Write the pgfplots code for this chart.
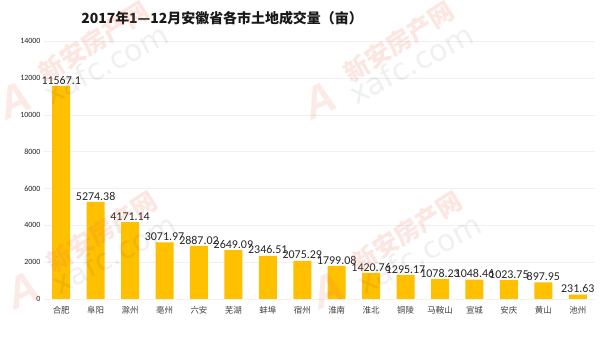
\documentclass[border=0pt]{standalone}
\usepackage{fontspec}
\setmainfont{Carlito}
\newfontfamily\cjk{Noto Sans CJK SC}
\newfontfamily\wmfont{DejaVu Sans}
\newfontfamily\logofont{Liberation Sans}
\usepackage{pgfplots}
\usepackage{pgfplotstable}
\pgfplotsset{compat=1.18}
\definecolor{barc}{HTML}{FFC000}
\definecolor{wmred}{HTML}{F07050}
\pgfplotstableread{
x val
0 11567.1
1 5274.38
2 4171.14
3 3071.97
4 2887.02
5 2649.09
6 2346.51
7 2075.29
8 1799.08
9 1420.76
10 1295.17
11 1078.23
12 1048.46
13 1023.75
14 897.95
15 231.63
}\data
\newcommand{\wm}[2]{%
\begin{scope}[shift={(#1,#2)}]
  \node[rotate=25, text=wmred, opacity=0.14, font=\logofont\bfseries\itshape\fontsize{44}{44}\selectfont] at (14,100) {A};
  \node[rotate=32.5, text=wmred, opacity=0.17, font=\cjk\bfseries\fontsize{25}{25}\selectfont] at (94,42) {新安房产网};
  \node[rotate=28, text=black, opacity=0.06, font=\wmfont\fontsize{30}{30}\selectfont] at (106,64) {xafc.com};
\end{scope}}
\begin{document}
\begin{tikzpicture}
\useasboundingbox (0,0) rectangle (610bp,344bp);
\fill[white] (0,0) rectangle (610bp,344bp);
\begin{axis}[
  at={(44bp,45bp)}, anchor=south west, scale only axis,
  width=551bp, height=258bp,
  xmin=-0.5, xmax=15.5, ymin=0, ymax=14000,
  axis line style={draw=none},
  tick style={draw=none},
  ymajorgrids, grid style={black!6},
  ytick={0,2000,...,14000},
  scaled y ticks=false,
  /pgf/number format/assume math mode=true,
  /pgf/number format/1000 sep={},
  yticklabel style={font=\fontsize{8}{9}\selectfont, text=black!85},
  xtick=data,
  xticklabels={合肥,阜阳,滁州,亳州,六安,芜湖,蚌埠,宿州,淮南,淮北,铜陵,马鞍山,宣城,安庆,黄山,池州},
  xticklabel style={font=\cjk\fontsize{8.5}{10}\selectfont, text=black!75},
  ybar, bar width=18bp,
  nodes near coords,
  point meta=explicit symbolic,
  nodes near coords style={font=\fontsize{12}{13}\selectfont, text=black!85, inner sep=1.5pt},
]
\addplot[fill=barc, draw=none] table[x=x, y=val, meta=val] {\data};
\end{axis}
\node[font=\cjk\bfseries\fontsize{14}{16}\selectfont, text=black!90] at (222bp,326bp) {2017年1—12月安徽省各市土地成交量（亩）};
\begin{scope}[shift={(0bp,344bp)}, x=1bp, y=-1bp]
  \wm{0}{0}
  \wm{8}{190}
  \wm{305}{0}
  \wm{313}{190}
\end{scope}
\end{tikzpicture}
\end{document}
